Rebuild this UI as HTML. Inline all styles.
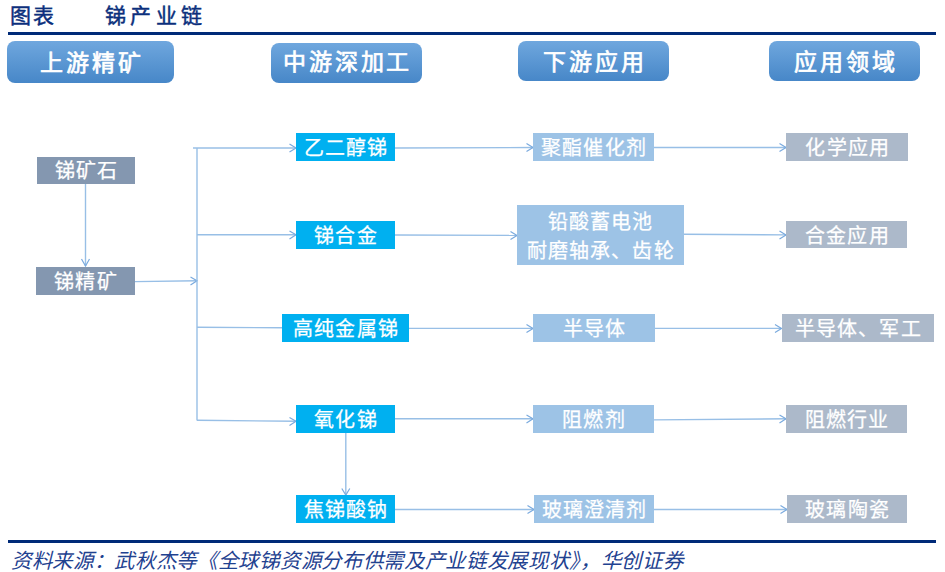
<!DOCTYPE html>
<html lang="zh-CN">
<head>
<meta charset="utf-8">
<style>
html,body{margin:0;padding:0;background:#fff;}
body{width:945px;height:572px;position:relative;overflow:hidden;font-family:"Liberation Sans",sans-serif;}
.t{position:absolute;color:#0b2f7c;font-weight:400;-webkit-text-stroke:0.45px #0b2f7c;font-size:21px;line-height:24px;white-space:nowrap;}
.rule{position:absolute;left:8px;width:928px;background:#002a78;}
.hd{position:absolute;border-radius:8px;background:linear-gradient(#6fa7de,#4787c8);color:#fff;font-weight:400;-webkit-text-stroke:0.7px #fff;font-size:23px;letter-spacing:2.8px;padding:0 0 3px 2.8px;box-sizing:border-box;display:flex;align-items:center;justify-content:center;white-space:nowrap;}
.b{position:absolute;color:#fff;font-size:20px;display:flex;align-items:center;justify-content:center;white-space:nowrap;line-height:24px;letter-spacing:1.1px;padding:2px 0 0 1.1px;-webkit-text-stroke:0.25px #fff;box-sizing:border-box;text-align:center;}
.s1{background:#8497b0;}
.s2{background:#acb9ca;}
.cy{background:#00b0f0;}
.lb{background:#9dc3e6;}
.src{position:absolute;left:11px;top:548.5px;color:#1f4290;font-style:italic;font-size:20.5px;letter-spacing:0.68px;line-height:24px;white-space:nowrap;}
svg{position:absolute;left:0;top:0;}
polyline{stroke:#7aaade;stroke-width:1.2;}
</style>
</head>
<body>
<div class="t" style="left:10px;top:4px;letter-spacing:2px;">图表</div>
<div class="t" style="left:105px;top:4px;letter-spacing:4.3px;">锑产业链</div>
<div class="rule" style="top:32px;height:3px;"></div>

<div class="hd" style="left:7px;top:41px;width:167px;height:42px;">上游精矿</div>
<div class="hd" style="left:270.5px;top:42.5px;width:151.5px;height:40.5px;padding-bottom:5px;">中游深加工</div>
<div class="hd" style="left:518px;top:41px;width:151px;height:40px;">下游应用</div>
<div class="hd" style="left:769px;top:41px;width:151px;height:40px;">应用领域</div>

<svg width="945" height="572" viewBox="0 0 945 572">
<g fill="none" stroke="#98bfe6" stroke-width="1.4" stroke-linecap="butt">
<!-- ore to concentrate -->
<line x1="85.5" y1="184" x2="85.5" y2="266"/>
<polyline points="81.5,259 85.5,266 89.5,259"/>
<!-- concentrate to trunk -->
<line x1="135" y1="281.6" x2="197" y2="280.8"/>
<polyline points="190.5,277 197,280.8 190.5,285"/>
<!-- trunk -->
<line x1="197" y1="148" x2="197" y2="420.5"/>
<line x1="193" y1="148" x2="296" y2="148"/>
<polyline points="289.5,144 296,148 289.5,152"/>
<line x1="197" y1="234.8" x2="296" y2="234.8"/>
<polyline points="289.5,231 296,234.8 289.5,239"/>
<line x1="197" y1="327.3" x2="282" y2="327.8"/>
<line x1="197" y1="420.3" x2="296" y2="421.3"/>
<polyline points="289.5,417.5 296,421.3 289.5,425.5"/>
<!-- col2 to col3 -->
<line x1="395" y1="148" x2="533" y2="147.5"/>
<polyline points="526.5,143.5 533,147.5 526.5,151.5"/>
<line x1="395" y1="235" x2="517" y2="235.4"/>
<polyline points="510.5,231.5 517,235.4 510.5,239.5"/>
<line x1="409" y1="328.4" x2="533" y2="328.4"/>
<polyline points="526.5,324.5 533,328.4 526.5,332.5"/>
<line x1="395" y1="418.8" x2="533" y2="418.8"/>
<polyline points="526.5,415 533,418.8 526.5,423"/>
<line x1="345.8" y1="432.5" x2="345.8" y2="495"/>
<polyline points="341.8,488.5 345.8,495 349.8,488.5"/>
<line x1="395" y1="509.5" x2="534" y2="509.5"/>
<polyline points="527.5,505.5 534,509.5 527.5,513.5"/>
<!-- col3 to col4 -->
<line x1="654" y1="147.5" x2="786" y2="147.5"/>
<polyline points="779.5,143.5 786,147.5 779.5,151.5"/>
<line x1="683.5" y1="234.2" x2="786" y2="234.9"/>
<polyline points="779.5,231 786,234.9 779.5,239"/>
<line x1="654.5" y1="328.4" x2="781.5" y2="328.4"/>
<polyline points="775,324.5 781.5,328.4 775,332.5"/>
<line x1="654" y1="419.9" x2="786" y2="418.8"/>
<polyline points="779.5,415 786,418.8 779.5,423"/>
<line x1="654" y1="509.5" x2="787" y2="509.5"/>
<polyline points="780.5,505.5 787,509.5 780.5,513.5"/>
</g>
</svg>

<div class="b s1" style="left:36.5px;top:156.5px;width:98.5px;height:27.5px;">锑矿石</div>
<div class="b s1" style="left:36px;top:266.5px;width:99px;height:28.5px;">锑精矿</div>

<div class="b cy" style="left:296px;top:133px;width:99px;height:28px;">乙二醇锑</div>
<div class="b cy" style="left:296px;top:220.5px;width:99px;height:28px;">锑合金</div>
<div class="b cy" style="left:282px;top:314px;width:127px;height:28px;">高纯金属锑</div>
<div class="b cy" style="left:296px;top:404.8px;width:99px;height:27.8px;">氧化锑</div>
<div class="b cy" style="left:296px;top:495px;width:99px;height:28px;">焦锑酸钠</div>

<div class="b lb" style="left:533px;top:133px;width:121px;height:28px;">聚酯催化剂</div>
<div class="b lb" style="left:517px;top:205px;width:166.5px;height:60px;line-height:29px;padding-top:4px;">铅酸蓄电池<br>耐磨轴承、齿轮</div>
<div class="b lb" style="left:533px;top:314px;width:121.5px;height:28px;">半导体</div>
<div class="b lb" style="left:533px;top:405px;width:121px;height:27.7px;">阻燃剂</div>
<div class="b lb" style="left:534px;top:495px;width:120px;height:28px;">玻璃澄清剂</div>

<div class="b s2" style="left:786.4px;top:133px;width:121.4px;height:28px;">化学应用</div>
<div class="b s2" style="left:786.4px;top:220.8px;width:121px;height:27.7px;">合金应用</div>
<div class="b s2" style="left:781.7px;top:314px;width:152.3px;height:28px;">半导体、军工</div>
<div class="b s2" style="left:786.4px;top:405px;width:120.6px;height:27.5px;">阻燃行业</div>
<div class="b s2" style="left:787px;top:495px;width:120px;height:28px;">玻璃陶瓷</div>

<div class="rule" style="top:540px;height:2.5px;"></div>
<div class="src">资料来源：武秋杰等《全球锑资源分布供需及产业链发展现状》，华创证券</div>
</body>
</html>
